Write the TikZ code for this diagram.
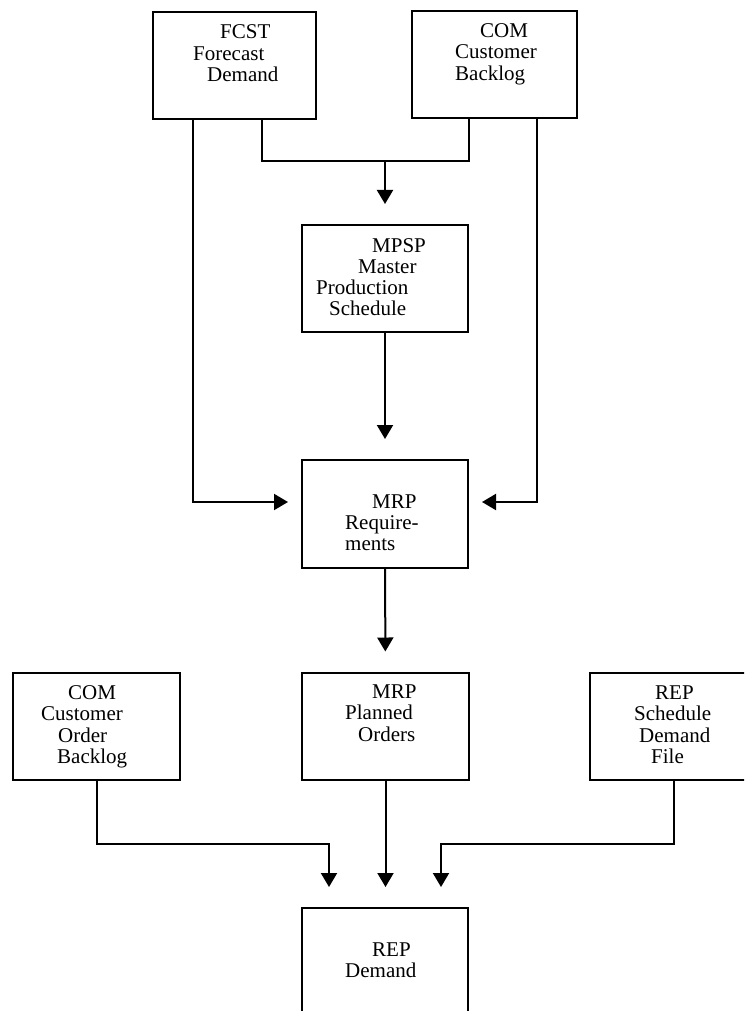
\documentclass[tikz,border=0pt]{standalone}
\usepackage{fontspec}
\setmainfont{Liberation Serif}
\usetikzlibrary{arrows.meta,calc}

\begin{document}
\begin{tikzpicture}[x=1pt,y=-1pt,
    box/.style={draw, line width=2pt, outer sep=0pt, inner sep=0pt,
      minimum width=166pt, minimum height=107pt},
    txt/.style={anchor=base west, inner sep=0pt, align=left,
      font=\fontsize{21pt}{21.3pt}\selectfont},
    flow/.style={line width=2pt, -{Triangle[width=16pt,length=14pt]}, shorten >=21pt},
    side/.style={flow, shorten >=14pt}]
    \clip (0,0) rectangle (744,1011);
    % boxes
    \node[box, minimum width=163pt] (fcst) at (234.5,65.5) {};
    \node[box, minimum width=165pt] (comtop) at (494.5,65) {};
    \node[box] (mpsp) at (385,278.5) {};
    \node[box, minimum height=108pt] (mrpreq) at (385,514) {};
    \node[box, minimum width=167pt] (combk) at (96.5,726) {};
    \node[box, minimum width=167pt] (mrppl) at (385.5,726) {};
    \node[box, minimum width=160pt] (repsch) at (670,726) {};
    \node[box, minimum height=132pt] (repdem) at (385,974) {};
    % texts (base = last line)
    \node[txt] (fcst-t) at ($(fcst.north west)+(40,69.6)$)
      {\hspace*{27pt}FCST\\Forecast\\\hspace*{14pt}Demand};
    \node[txt] (comtop-t) at ($(comtop.north west)+(43,68.6)$)
      {\hspace*{25pt}COM\\Customer\\Backlog};
    \node[txt] (mpsp-t) at ($(mpsp.north west)+(14,90.9)$)
      {\hspace*{56pt}MPSP\\\hspace*{42pt}Master\\Production\\\hspace*{13pt}Schedule};
    \node[txt] (mrpreq-t) at ($(mrpreq.north west)+(43,90.6)$)
      {\hspace*{27pt}MRP\\Require-\\ments};
    \node[txt] (combk-t) at ($(combk.north west)+(28,90.9)$)
      {\hspace*{27pt}COM\\Customer\\\hspace*{17pt}Order\\\hspace*{16pt}Backlog};
    \node[txt] (mrppl-t) at ($(mrppl.north west)+(43,68.6)$)
      {\hspace*{27pt}MRP\\Planned\\\hspace*{13pt}Orders};
    \node[txt] (repsch-t) at ($(repsch.north west)+(44,90.9)$)
      {\hspace*{21pt}REP\\Schedule\\\hspace*{5pt}Demand\\\hspace*{17pt}File};
    \node[txt] (repdem-t) at ($(repdem.north west)+(43,69.3)$)
      {\hspace*{27pt}REP\\Demand};
    % connectors
    \coordinate (topjoin) at (385,161);
    \draw[line width=2pt] ([xshift=27.5pt]fcst.south) |- (topjoin)
      -| ([xshift=-25.5pt]comtop.south);
    \draw[flow] (topjoin) -- (mpsp);
    \draw[flow] (mpsp) -- (mrpreq);
    \draw[side] ([xshift=-41.5pt]fcst.south) |- ([yshift=12pt]mrpreq.west);
    \draw[side] ([xshift=42.5pt]comtop.south) |- ([yshift=12pt]mrpreq.east);
    \draw[flow] (mrpreq) -- (mrppl);
    \coordinate (inl) at ([xshift=-56pt]repdem.north);
    \coordinate (inr) at ([xshift=56pt]repdem.north);
    \draw[flow] (combk.south) -- ++(0,64) -| (inl);
    \draw[flow] (mrppl.south) -- (mrppl.south |- repdem.north);
    \draw[flow] ([xshift=4pt]repsch.south) -- ++(0,64) -| (inr);
\end{tikzpicture}
\end{document}
